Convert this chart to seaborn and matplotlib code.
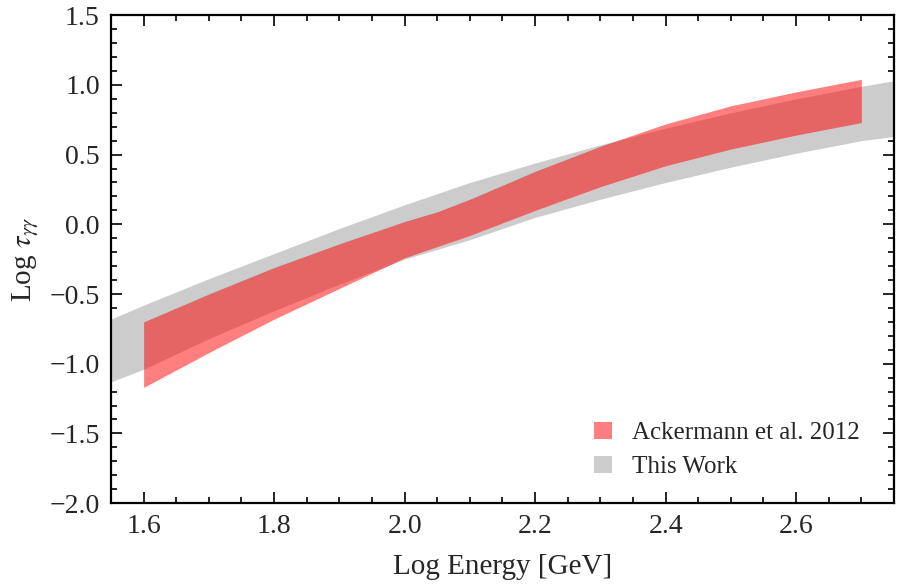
import numpy as np
import matplotlib
matplotlib.use('Agg')
import matplotlib.pyplot as plt
import seaborn as sns
from matplotlib.patches import Patch
from matplotlib.ticker import MultipleLocator, FuncFormatter

# ── data ─────────────────────────────────────────────────────
# This Work (grey band)
grey_x     = [1.55, 1.60, 1.70, 1.80, 1.90, 2.00, 2.10, 2.20, 2.30, 2.40, 2.50, 2.60, 2.70, 2.75]
grey_upper = [-0.68, -0.58, -0.39, -0.21, -0.03, 0.14, 0.30, 0.44, 0.57, 0.69, 0.80, 0.90, 0.99, 1.03]
grey_lower = [-1.13, -1.04, -0.82, -0.62, -0.43, -0.25, -0.11, 0.05, 0.18, 0.30, 0.41, 0.51, 0.60, 0.63]

# Ackermann et al. 2012 (red band)
red_x     = [1.60, 1.70, 1.80, 1.90, 2.00, 2.05, 2.10, 2.20, 2.30, 2.40, 2.50, 2.60, 2.70]
red_upper = [-0.70, -0.50, -0.31, -0.14, 0.02, 0.09, 0.18, 0.38, 0.56, 0.72, 0.85, 0.95, 1.04]
red_lower = [-1.17, -0.92, -0.68, -0.46, -0.24, -0.16, -0.08, 0.10, 0.27, 0.42, 0.54, 0.64, 0.73]

labels = ['Ackermann et al. 2012', 'This Work']

# ── style ────────────────────────────────────────────────────
sns.set_style('ticks')
plt.rcParams['font.family'] = ['Liberation Serif', 'DejaVu Serif']
plt.rcParams['mathtext.fontset'] = 'stix'

fig = plt.figure(figsize=(9, 5.85), dpi=100)
ax = fig.add_axes([0.1233, 0.140, 0.870, 0.834])

ax.fill_between(grey_x, grey_lower, grey_upper, color='#cccccc', linewidth=0)
ax.fill_between(red_x, red_lower, red_upper, color='red', alpha=0.5, linewidth=0)

ax.set_xlim(1.55, 2.75)
ax.set_ylim(-2.0, 1.5)
ax.xaxis.set_major_locator(MultipleLocator(0.2))
ax.xaxis.set_minor_locator(MultipleLocator(0.05))
ax.yaxis.set_major_locator(MultipleLocator(0.5))
ax.yaxis.set_minor_locator(MultipleLocator(0.1))

def fmt(v, pos):
    s = f'{abs(v):.1f}'
    return ('\u2212' + s) if v < -1e-9 else s

ax.xaxis.set_major_formatter(FuncFormatter(fmt))
ax.yaxis.set_major_formatter(FuncFormatter(fmt))

ax.tick_params(which='both', direction='in', top=True, right=True,
               labelsize=20, color='black', width=1.2)
ax.tick_params(which='major', length=8, pad=8)
ax.tick_params(which='minor', length=4)
for s in ax.spines.values():
    s.set_linewidth(1.6)
    s.set_color('black')

ax.set_xlabel('Log Energy [GeV]', fontsize=21, labelpad=11)
ax.set_ylabel(r'Log $\tau_{\gamma\gamma}$', fontsize=21, labelpad=6)

handles = [Patch(facecolor='red', alpha=0.5, edgecolor='none'),
           Patch(facecolor='#cccccc', edgecolor='none')]
ax.legend(handles, labels, loc='lower right', frameon=False, fontsize=18,
          handlelength=0.7, handleheight=0.7, handletextpad=0.8,
          labelspacing=0.45, bbox_to_anchor=(0.985, 0.005))

fig.savefig('out.png', dpi=100)
